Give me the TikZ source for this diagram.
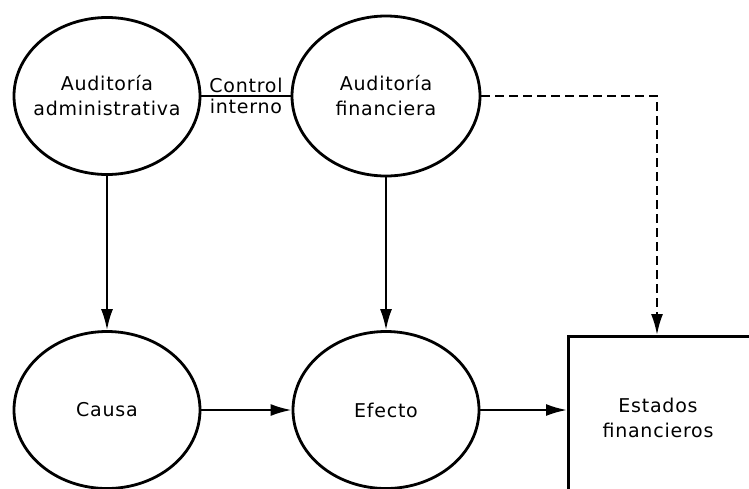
\documentclass[tikz,border=0pt]{standalone}
\usepackage{fontspec}
\setmainfont{DejaVu Sans}[LetterSpace=4]
\usetikzlibrary{shapes.geometric,arrows.meta}
\tikzset{
  oval/.style={ellipse, draw, line width=2.8pt, inner sep=0pt, minimum width=186pt, minimum height=157pt},
  conn/.style={line width=2.2pt, -{Latex[length=21pt,width=12pt]}},
  lbl/.style={font=\fontsize{19}{25}\selectfont, align=center, inner sep=1pt}
}
\begin{document}
\begin{tikzpicture}[x=1pt,y=-1pt]
\clip (0,0) rectangle (749,488);
\fill[white] (0,0) rectangle (749,488);
\node[oval] (adm) at (107,96) {};
\node[lbl] (admt) at (adm.center) {Auditoría\\administrativa};
\node[oval, minimum width=188pt, minimum height=160pt] (fin) at (386,96) {};
\node[lbl] (fint) at (fin.center) {Auditoría\\financiera};
\node[oval] (causa) at (107,410) {};
\node[lbl] (causat) at (causa.center) {Causa};
\node[oval] (efecto) at (386,410) {};
\node[lbl] (efectot) at (efecto.center) {Efecto};
\node[draw, line width=2.8pt, minimum width=240pt, minimum height=200pt, inner sep=0pt, anchor=north west] (box) at (567,335) {};
\node[lbl] (est) at (658,418) {Estados\\financieros};
\coordinate (dtop) at (657,335);
\draw[line width=2.2pt] (adm.east) -- node[lbl, above, yshift=1pt] (ctl) {Control} node[lbl, below, yshift=-1pt] (int) {interno} (fin.west);
\draw[conn] (adm.south) -- (causa.north);
\draw[conn] (fin.south) -- (efecto.north);
\draw[conn] (causa.east) -- (efecto.west);
\draw[conn] (efecto.east) -- (efecto.east -| box.west);
\draw[conn, dash pattern=on 9pt off 5pt] (fin.east) -| (dtop);
\end{tikzpicture}
\end{document}
